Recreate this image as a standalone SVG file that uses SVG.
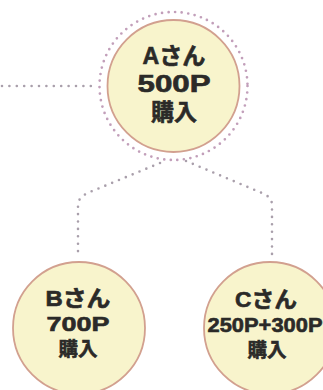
<svg xmlns="http://www.w3.org/2000/svg" width="323" height="390" viewBox="0 0 323 390">
  <style>
    .dots { fill: none; stroke: #a99fab; stroke-width: 2.6; stroke-linecap: round; stroke-dasharray: 0 7.4; }
    .ring { fill: none; stroke: #c29fba; stroke-width: 2.7; stroke-linecap: round; stroke-dasharray: 0 6.6; }
    .node { fill: #f8f4cc; stroke: #d2a08f; stroke-width: 1.8; }
    .lbl { font-family: "Liberation Sans", "Noto Sans CJK JP", sans-serif; font-weight: bold; fill: #2b2a28; stroke: #2b2a28; stroke-width: 0.6; text-anchor: middle; }
  </style>
  <rect width="323" height="390" fill="#ffffff"/>
  <g id="connectors">
    <path class="dots" d="M2,86 L97,86"/>
    <path class="dots" d="M160,163 L90,192 Q78,197 78,205 L78,258"/>
    <path class="dots" d="M186,161 L262,193 Q272,197 272,205 L272,258"/>
  </g>
  <g id="nodeA">
    <circle class="ring" cx="173.5" cy="86" r="74"/>
    <circle class="node" cx="173.5" cy="86" r="66"/>
    <text class="lbl" x="174" y="64" font-size="23" textLength="63" lengthAdjust="spacingAndGlyphs">Aさん</text>
    <text class="lbl" x="174" y="92" font-size="23" textLength="73" lengthAdjust="spacingAndGlyphs">500P</text>
    <text class="lbl" x="174" y="120" font-size="23" textLength="46" lengthAdjust="spacingAndGlyphs">購入</text>
  </g>
  <g id="nodeB">
    <circle class="node" cx="79" cy="328" r="66"/>
    <text class="lbl" x="78" y="306" font-size="22" textLength="65" lengthAdjust="spacingAndGlyphs">Bさん</text>
    <text class="lbl" x="78" y="331" font-size="21" textLength="63" lengthAdjust="spacingAndGlyphs">700P</text>
    <text class="lbl" x="78" y="356" font-size="19.5" textLength="39" lengthAdjust="spacingAndGlyphs">購入</text>
  </g>
  <g id="nodeC">
    <circle class="node" cx="270" cy="328" r="66"/>
    <text class="lbl" x="266" y="307" font-size="22" textLength="62" lengthAdjust="spacingAndGlyphs">Cさん</text>
    <text class="lbl" x="265" y="332" font-size="20" textLength="115" lengthAdjust="spacingAndGlyphs">250P+300P</text>
    <text class="lbl" x="267" y="357" font-size="19.5" textLength="39" lengthAdjust="spacingAndGlyphs">購入</text>
  </g>
</svg>
